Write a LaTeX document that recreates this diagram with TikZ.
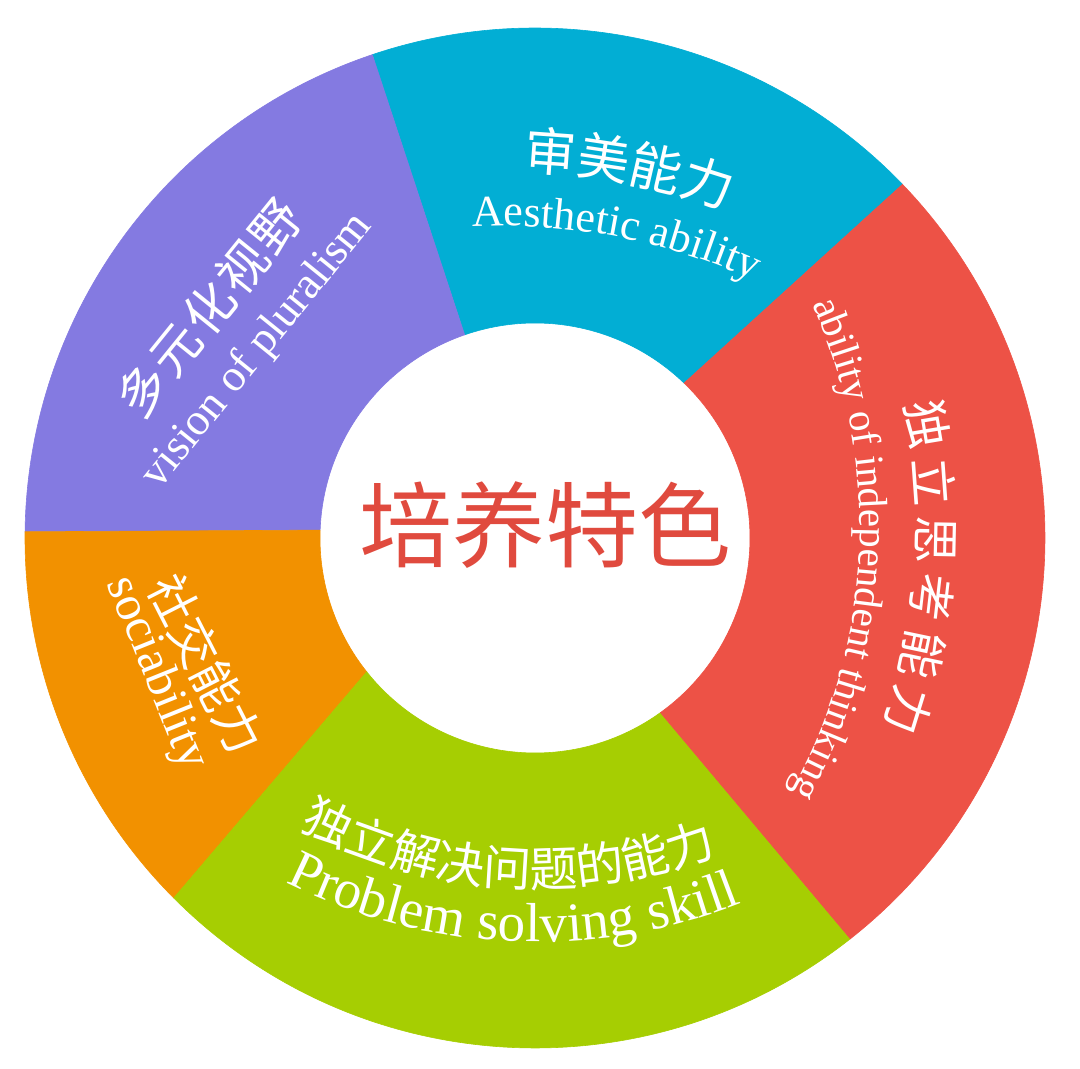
\documentclass[tikz,border=0pt]{standalone}
\usepackage{fontspec}
\setmainfont{Liberation Serif}
\newfontfamily\cjk{Noto Sans CJK SC}
\usetikzlibrary{decorations.text}

\definecolor{segpurple}{RGB}{132,122,225}
\definecolor{segcyan}{RGB}{2,174,212}
\definecolor{segred}{RGB}{237,82,70}
\definecolor{segorange}{RGB}{242,145,0}
\definecolor{seggreen}{RGB}{166,206,2}
\definecolor{titlered}{RGB}{224,74,62}

\newcommand{\fsz}[1]{\fontsize{#1}{#1}\selectfont}

\begin{document}
\begin{tikzpicture}[x=1pt, y=1pt,
  arctext/.style={decorate, decoration={text along path, text align=center, text color=white, text={#1}}},
  flat/.style={text=white, inner sep=0pt}]
  \useasboundingbox (-535,-531) rectangle (545,538);
  % ring segments: colour / outer from / outer to / inner from / inner to
  \foreach \col/\oa/\ob/\ia/\ib in {segcyan/43.9/108.6/46.1/109.1,
      segpurple/108.6/179.3/109.1/177.9, segorange/179.3/224.9/177.9/218.5,
      seggreen/224.9/308.2/218.5/305.7, segred/308.2/403.9/305.7/406.1}
    \fill[\col, draw=\col, line width=0.6pt] (\ia:215pt) -- (\oa:510pt)
      arc[start angle=\oa, end angle=\ob, radius=510pt] -- (\ib:215pt)
      arc[start angle=\ib, end angle=\ia, radius=215pt] -- cycle;

  % centre
  \node[text=titlered, font=\cjk\fsz{93}] (title) at (11,13) {培养特色};

  % cyan
  \path[arctext={|\cjk\fsz{52}|审美能力}, shift={(-33,-298)}]
    (99:666pt) arc[start angle=99, end angle=59.4, radius=666pt];
  \path[arctext={|\fsz{44}|Aesthetic ability}, shift={(-33,-298)}]
    (99:610pt) arc[start angle=99, end angle=59.4, radius=610pt];

  % purple
  \node[flat, rotate=51, font=\cjk\fsz{50}\addfontfeatures{LetterSpace=6}] (purplecn) at (-326,230) {多元化视野};
  \node[flat, rotate=51, anchor=base, font=\fsz{45}] (purpleen) at (-269,180) {vision of pluralism};

  % orange
  \node[flat, rotate=-63, font=\cjk\fsz{48}] (orangecn) at (-329,-126) {社交能力};
  \node[flat, rotate=-68, anchor=base, font=\fsz{49}] (orangeen) at (-390,-140) {sociability};

  % red
  \begin{scope}[shift={(-220,11)}]
    \foreach \ch [count=\i, evaluate=\i as \a using 9.5-5.34*(\i-1)] in {独,立,思,考,能,力}
      \node[flat, font=\cjk\fsz{48}, rotate=\a-90] (redcn\i) at (\a:621pt) {\ch};
  \end{scope}
  \path[arctext={|\fsz{41}|ability of independent thinking}, shift={(-220,11)}]
    (30:545pt) arc[start angle=30, end angle=-35, radius=545pt];

  % green
  \path[arctext={|\cjk\fsz{48}|独立解决问题的能力}, shift={(2,158)}]
    (-128:507pt) arc[start angle=-128, end angle=-59, radius=507pt];
  \path[arctext={|\fsz{55}|Problem solving skill}, shift={(2,158)}]
    (-125.2:562pt) arc[start angle=-125.2, end angle=-60, radius=562pt];
\end{tikzpicture}
\end{document}
